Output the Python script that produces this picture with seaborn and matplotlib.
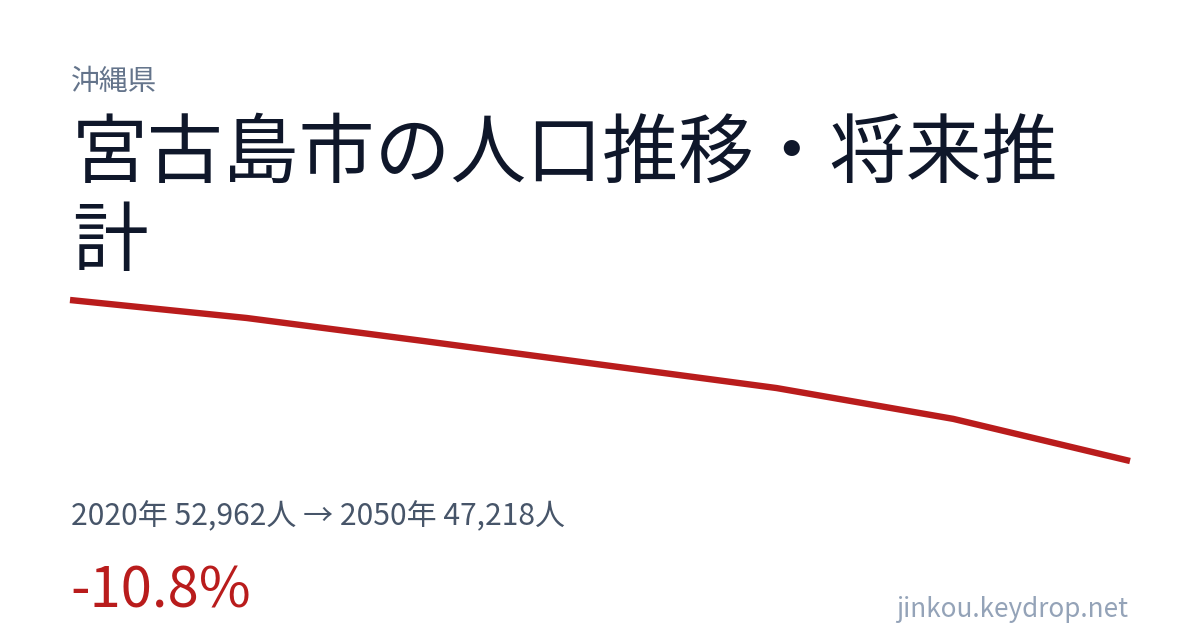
import pandas as pd
import matplotlib.pyplot as plt
import seaborn as sns

# データ
years = [2020, 2025, 2030, 2035, 2040, 2045, 2050]
population = [52962, 52320, 51500, 50660, 49820, 48720, 47218]

pref_name = '沖縄県'
title_lines = ['宮古島市の人口推移・将来推', '計']
site_name = 'jinkou.keydrop.net'

df = pd.DataFrame({'year': years, 'pop': population})
change = (population[-1] - population[0]) / population[0] * 100

sns.set_style('white')
plt.rcParams['font.family'] = ['Noto Sans CJK JP', 'DejaVu Sans']

W, H = 1200, 630
fig = plt.figure(figsize=(W / 100, H / 100), dpi=100)
fig.patch.set_facecolor('white')


def px(x, y):
    return x / W, 1 - y / H


# 折れ線
ax = fig.add_axes([70 / W, 1 - 461 / H, 1060 / W, 161 / H])
sns.lineplot(data=df, x='year', y='pop', ax=ax, color='#b91c1c',
             linewidth=4.6, solid_capstyle='butt', clip_on=False)
ax.set_xlim(min(years), max(years))
ax.set_ylim(min(population), max(population))
ax.axis('off')

# テキスト
fig.text(*px(71, 90), pref_name, fontsize=20.7, color='#64748b', va='baseline')
fig.text(*px(72, 177), title_lines[0], fontsize=54.6, color='#0f172a', va='baseline')
fig.text(*px(72, 265), title_lines[1], fontsize=54.6, color='#0f172a', va='baseline')

stats = f'{years[0]}年 {population[0]:,}人 → {years[-1]}年 {population[-1]:,}人'
fig.text(*px(71, 525), stats, fontsize=21.6, color='#475569', va='baseline')
fig.text(*px(70, 608), f'{change:.1f}%', fontsize=40.5, color='#b91c1c', va='baseline')
fig.text(*px(1128, 617), site_name, fontsize=18.8, color='#94a3b8',
         va='baseline', ha='right')

fig.savefig('out.png', dpi=100, facecolor='white')
